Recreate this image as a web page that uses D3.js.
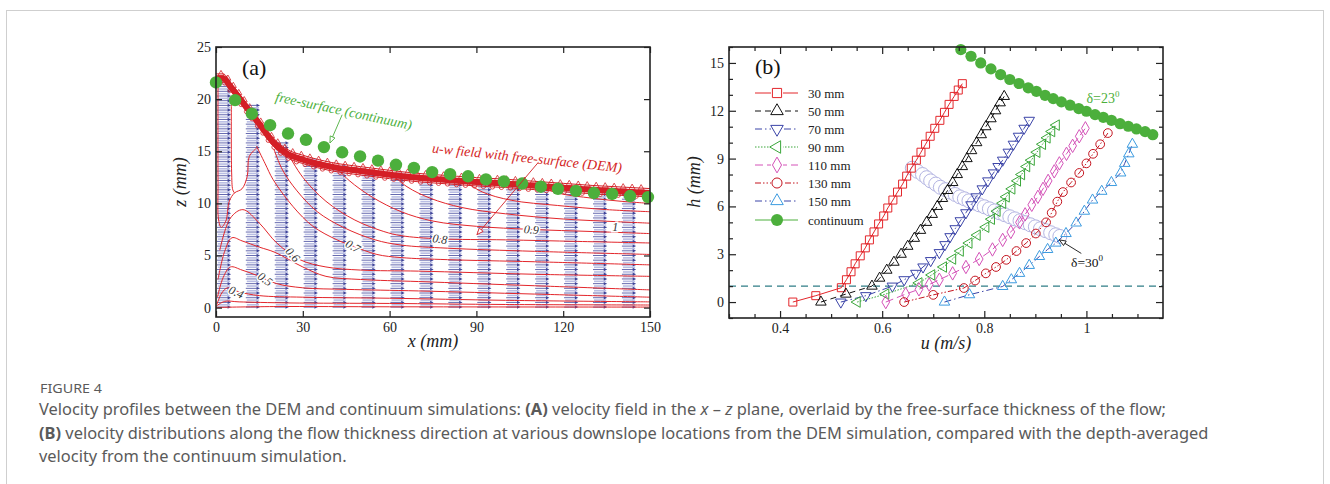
<!DOCTYPE html>
<html>
<head>
<meta charset="UTF-8">
<title>Figure 4 - velocity profiles DEM vs continuum</title>
<script src="https://d3js.org/d3.v7.min.js"></script>
<style>
  body { margin: 0; background: #fff; }
  svg text { font-family: "Liberation Serif", "Times New Roman", serif; }
  .cap text { font-family: "Noto Sans", "Open Sans", sans-serif; fill: #5a5a5a; }
</style>
</head>
<body>
<svg width="1330" height="484"></svg>
<script>
// ---------- panel (a) data ----------
const colX = [0, 10, 20, 30, 40, 50, 60, 70, 80, 90, 100, 110, 120, 130, 140];
const colTop = [22, 19.4, 15.8, 14.4, 13.7, 13.2, 12.9, 12.6, 12.4, 12.2, 12.0, 11.8, 11.6, 11.4, 11.2];

const demX = [0, 2.5, 5, 10, 15, 20, 25, 30, 40, 50, 60, 70, 80, 90, 100, 110, 120, 130, 140, 150];
const demZ = [22, 22, 21.2, 19.4, 17.6, 15.8, 14.7, 14.2, 13.5, 13.1, 12.75, 12.45, 12.25, 12.05, 11.9, 11.7, 11.5, 11.3, 11.15, 11.0];

const fsX = [0, 6.6, 12.4, 18.7, 24.9, 31.1, 37.3, 43.6, 49.8, 56, 62.2, 68.4, 74.7, 80.9, 87.1, 93.3, 99.5, 105.8, 112.3, 118.2, 124.4, 130.6, 136.9, 143.1, 149.3];
const fsZ = [21.6, 19.9, 18.6, 17.5, 16.7, 16.1, 15.4, 14.9, 14.5, 14.1, 13.7, 13.4, 13.0, 12.8, 12.6, 12.3, 12.1, 11.9, 11.6, 11.4, 11.2, 11.0, 10.9, 10.7, 10.6];

// contour lines of u, as [x, z] in mm
const contours = [
  [[0,0.02],[20,0.1],[60,0.08],[110,0.06],[150,0.05]],
  [[0,0.12],[3,0.6],[8,0.55],[25,0.45],[60,0.4],[100,0.3],[150,0.25]],
  [[0.3,0.3],[2,1.4],[4,1.9],[8,1.5],[15,1.15],[30,1.0],[60,0.9],[100,0.7],[150,0.55]],
  [[0.5,1.0],[2.5,2.9],[5,3.9],[9,3.6],[14,3.1],[21,2.3],[30,1.9],[45,1.75],[70,1.6],[110,1.3],[150,1.0]],
  [[0.7,2.7],[3,5.4],[5.5,6.7],[9,6.4],[15,5.8],[20.4,5.3],[30,3.9],[38,3.0],[50,2.7],[70,2.5],[110,2.1],[150,1.7]],
  [[1.3,5.5],[5,8.6],[9.3,9.4],[15,8.1],[21,6.2],[29,4.6],[38,3.9],[50,3.6],[70,3.5],[110,3.2],[150,3.0]],
  [[14,15.5],[17,13.8],[19.7,12.3],[26.6,9.7],[33.5,7.8],[41.8,6.5],[47.4,5.9],[55.6,5.1],[64,4.8],[80,4.6],[110,4.4],[150,4.1]],
  [[20,15.2],[23,13.2],[28,11.2],[35,9.2],[44,7.7],[55,6.5],[64,6.0],[80,5.7],[110,5.4],[150,5.1]],
  [[25,14.7],[30,12.5],[38,10.2],[48,8.4],[58,7.3],[64,6.9],[77,6.6],[100,6.5],[125,6.35],[150,6.2]],
  [[40,13.9],[46,12.2],[54,10.6],[64,9.2],[75,8.3],[90,7.8],[109,7.5],[130,7.3],[150,7.1]],
  [[60,13.0],[66,11.6],[74,10.5],[85,9.6],[100,9.0],[120,8.5],[138,8.25],[150,8.1]],
  [[85,12.3],[92,11.1],[102,10.3],[118,9.8],[135,9.4],[150,9.2]],
  [[110,11.9],[118,11.0],[130,10.5],[140,10.2],[150,10.0]],
  [[0.7,21.8],[0.7,12],[0.9,8.4],[1.8,7.7],[3.4,8.3],[4.6,10.2],[6.4,11],[9,11.4],[10.8,12.6],[11.5,14.5],[14,15.3]],
  [[5.3,19.5],[5.4,13],[5.8,11.3],[6.4,11]]
];
const cLabels = ["0.4", "0.5", "0.6", "0.7", "0.8", "0.9", "1"];
const cLabX = [7, 17, 26.6, 47.4, 77.4, 109, 138];
const cLabZ = [1.5, 2.75, 5.1, 5.9, 6.6, 7.5, 7.8];
const cLabA = [24, 36, 48, 30, 8, 5, 0];

const xTicksA = [0, 30, 60, 90, 120, 150];
const zTicksA = [0, 5, 10, 15, 20, 25];

// ---------- panel (b) data ----------
const u30 = [0.425, 0.470, 0.520, 0.530, 0.539, 0.547, 0.557, 0.567, 0.575, 0.584, 0.593, 0.603, 0.611, 0.621, 0.630, 0.640, 0.648, 0.657, 0.667, 0.676, 0.685, 0.694, 0.703, 0.713, 0.722, 0.731, 0.741, 0.749, 0.757];
const h30 = [0, 0.4, 0.9, 1.4, 1.9, 2.4, 2.9, 3.4, 3.9, 4.4, 4.9, 5.4, 5.9, 6.4, 6.9, 7.4, 7.9, 8.4, 8.9, 9.4, 9.9, 10.4, 10.9, 11.4, 11.9, 12.4, 12.9, 13.3, 13.7];
const u50 = [0.480, 0.529, 0.580, 0.595, 0.609, 0.623, 0.637, 0.650, 0.663, 0.675, 0.687, 0.698, 0.708, 0.718, 0.728, 0.738, 0.747, 0.757, 0.766, 0.775, 0.785, 0.794, 0.803, 0.813, 0.822, 0.831, 0.839];
const h50 = [0, 0.5, 1.0, 1.5, 2.0, 2.5, 3.0, 3.5, 4.0, 4.5, 5.0, 5.5, 6.0, 6.5, 7.0, 7.5, 8.0, 8.5, 9.0, 9.5, 10.0, 10.5, 11.0, 11.5, 12.0, 12.5, 12.9];
const u70 = [0.519, 0.568, 0.620, 0.643, 0.666, 0.680, 0.695, 0.712, 0.723, 0.733, 0.743, 0.753, 0.764, 0.774, 0.784, 0.796, 0.807, 0.818, 0.827, 0.836, 0.847, 0.857, 0.867, 0.878, 0.888];
const h70 = [0, 0.4, 1.0, 1.4, 1.8, 2.2, 2.6, 3.1, 3.6, 4.1, 4.6, 5.1, 5.6, 6.1, 6.6, 7.1, 7.6, 8.1, 8.5, 8.9, 9.4, 9.9, 10.4, 10.9, 11.4];
const u90 = [0.551, 0.607, 0.672, 0.697, 0.720, 0.738, 0.753, 0.770, 0.786, 0.803, 0.814, 0.825, 0.836, 0.843, 0.854, 0.865, 0.873, 0.883, 0.892, 0.903, 0.914, 0.923, 0.932, 0.941];
const h90 = [0, 0.5, 1.2, 1.7, 2.2, 2.7, 3.2, 3.7, 4.2, 4.7, 5.2, 5.7, 6.2, 6.6, 7.1, 7.6, 8.0, 8.5, 8.9, 9.4, 9.9, 10.3, 10.7, 11.1];
const u110 = [0.607, 0.646, 0.672, 0.692, 0.712, 0.738, 0.764, 0.790, 0.816, 0.836, 0.852, 0.869, 0.880, 0.893, 0.905, 0.915, 0.925, 0.937, 0.947, 0.961, 0.973, 0.986, 0.998];
const h110 = [0, 0.5, 0.8, 1.1, 1.4, 1.8, 2.2, 2.7, 3.3, 3.9, 4.4, 5.0, 5.5, 6.1, 6.6, 7.1, 7.6, 8.2, 8.7, 9.3, 9.8, 10.4, 10.9];
const u130 = [0.643, 0.700, 0.760, 0.782, 0.803, 0.823, 0.843, 0.863, 0.882, 0.901, 0.921, 0.932, 0.943, 0.954, 0.970, 0.986, 1.000, 1.013, 1.027, 1.042];
const h130 = [0, 0.45, 0.88, 1.35, 1.8, 2.2, 2.65, 3.2, 3.7, 4.3, 5.0, 5.6, 6.3, 6.9, 7.5, 8.1, 8.7, 9.3, 9.9, 10.6];
const u150 = [0.722, 0.771, 0.836, 0.853, 0.869, 0.888, 0.908, 0.924, 0.940, 0.960, 0.980, 0.996, 1.012, 1.030, 1.049, 1.067, 1.075, 1.083, 1.090];
const h150 = [0, 0.46, 0.98, 1.4, 1.8, 2.3, 2.86, 3.3, 3.7, 4.3, 4.96, 5.7, 6.4, 6.95, 7.5, 8.1, 8.7, 9.3, 9.9];
const uCont = [0.754, 0.774, 0.793, 0.813, 0.832, 0.850, 0.868, 0.886, 0.902, 0.919, 0.935, 0.951, 0.968, 0.985, 1.000, 1.017, 1.033, 1.049, 1.066, 1.082, 1.098, 1.115, 1.130];
const hCont = [15.84, 15.42, 15.0, 14.63, 14.27, 13.96, 13.71, 13.44, 13.22, 12.97, 12.76, 12.56, 12.35, 12.14, 11.97, 11.76, 11.59, 11.40, 11.19, 11.03, 10.86, 10.69, 10.50];
const uD30 = [0.659, 0.669, 0.679, 0.687, 0.695, 0.705, 0.714, 0.724, 0.733, 0.743, 0.752, 0.761, 0.770, 0.780, 0.790, 0.800, 0.810, 0.820, 0.830, 0.840, 0.850, 0.860, 0.870, 0.880, 0.890, 0.900, 0.910, 0.920, 0.930, 0.940, 0.948];
const hD30 = [8.4, 8.2, 8.0, 7.8, 7.6, 7.4, 7.2, 7.05, 6.9, 6.75, 6.6, 6.48, 6.35, 6.22, 6.1, 5.98, 5.85, 5.72, 5.6, 5.48, 5.35, 5.22, 5.1, 4.98, 4.85, 4.72, 4.6, 4.48, 4.35, 4.22, 4.12];
const hDepo = [1];

const seriesNames = ["30 mm", "50 mm", "70 mm", "90 mm", "110 mm", "130 mm", "150 mm", "continuum"];
const uMajor = [0.4, 0.6, 0.8, 1.0];
const uMinor = [0.3, 0.35, 0.45, 0.5, 0.55, 0.65, 0.7, 0.75, 0.85, 0.9, 0.95, 1.05, 1.1];
const hMajor = [0, 3, 6, 9, 12, 15];
const hMinor = [-1, 1, 2, 4, 5, 7, 8, 10, 11, 13, 14, 16];

// ---------- drawing ----------
const svg = d3.select("svg");
const green = "#4caf3c";

svg.append("rect").attr("x", 6.5).attr("y", 10.5).attr("width", 1317).attr("height", 500)
  .attr("fill", "none").attr("stroke", "#cfcfcf");

// ===== panel (a) =====
const xa = d3.scaleLinear().domain([0, 150]).range([216, 650]);
const za = d3.scaleLinear().domain([-0.9, 25]).range([317, 47]);
const ga = svg.append("g");

svg.append("clipPath").attr("id", "clipA").append("rect")
  .attr("x", 216).attr("y", 47).attr("width", 434).attr("height", 270);

const field = ga.append("g").attr("clip-path", "url(#clipA)");
const arrowLen = 5.2;
colX.forEach((cx, i) => {
  for (let z = 0.05; z <= colTop[i] + 0.01; z += 0.45) {
    const x0 = xa(cx + 0.3), x1 = xa(cx + arrowLen);
    if (z + 0.22 <= colTop[i]) {
      field.append("line").attr("x1", x0 + 1).attr("x2", x1 - 1)
        .attr("y1", za(z + 0.22)).attr("y2", za(z + 0.22))
        .attr("stroke", "#b9bde3").attr("stroke-width", 1.6);
    }
    const y = za(z);
    field.append("path").attr("d", `M${x0},${y}H${x1 - 3}`)
      .attr("stroke", "#3d4399").attr("stroke-width", 0.8);
    field.append("path").attr("d", `M${x1},${y}L${x1 - 3.4},${y - 1.7}L${x1 - 3.4},${y + 1.7}Z`)
      .attr("fill", "#3d4399");
  }
});

const cLine = d3.line().x(d => xa(d[0])).y(d => za(d[1])).curve(d3.curveCatmullRom.alpha(0.5));
ga.append("g").attr("clip-path", "url(#clipA)")
  .selectAll("path").data(contours).join("path")
  .attr("d", cLine).attr("fill", "none").attr("stroke", "#e3262b").attr("stroke-width", 1);

cLabels.forEach((t, i) => {
  ga.append("text")
    .attr("transform", `translate(${xa(cLabX[i])},${za(cLabZ[i])}) rotate(${cLabA[i]})`)
    .attr("text-anchor", "middle").attr("dy", "0.35em")
    .attr("font-family", "Liberation Sans, Arial, sans-serif").attr("font-style", "italic")
    .attr("font-size", 12).attr("fill", "#333")
    .attr("stroke", "#fff").attr("stroke-width", 3).attr("paint-order", "stroke")
    .text(t);
});

// DEM free surface band
const demPts = d3.zip(demX, demZ);
const demLine = d3.line().x(d => xa(d[0])).y(d => za(d[1])).curve(d3.curveMonotoneX);
const band = ga.append("g").attr("clip-path", "url(#clipA)");
band.append("path").attr("d", demLine(demPts)).attr("fill", "none")
  .attr("stroke", "#d41f26").attr("stroke-width", 6);
[0.42, -0.38].forEach((off, k) => {
  const p = band.append("path").attr("d", demLine(demPts.map(d => [d[0], d[1] + off])))
    .attr("fill", "none").attr("stroke", "#d41f26").attr("stroke-width", 1);
  const node = p.node(), L = node.getTotalLength();
  for (let s = 5 + k * 4; s < L; s += 9) {
    const q = node.getPointAtLength(s);
    band.append("path").attr("transform", `translate(${q.x},${q.y})`)
      .attr("d", d3.symbol(k ? d3.symbolCircle : d3.symbolTriangle, 16)())
      .attr("fill", "none").attr("stroke", "#d41f26").attr("stroke-width", 0.8);
  }
});

// continuum free surface
ga.append("g").selectAll("circle").data(d3.zip(fsX, fsZ)).join("circle")
  .attr("cx", d => xa(d[0])).attr("cy", d => za(d[1])).attr("r", 6.2).attr("fill", green);

function arrowHead(g, x0, y0, x1, y1, color, fill) {
  const a = Math.atan2(y1 - y0, x1 - x0), l = 7, w = 0.38;
  const p1 = [x1 - l * Math.cos(a - w), y1 - l * Math.sin(a - w)];
  const p2 = [x1 - l * Math.cos(a + w), y1 - l * Math.sin(a + w)];
  g.append("path").attr("d", `M${p1}L${x1},${y1}L${p2}Z`)
    .attr("fill", fill).attr("stroke", color).attr("stroke-width", 0.9);
}

// annotations (a)
ga.append("line").attr("x1", xa(43.6)).attr("y1", za(18.5)).attr("x2", xa(39.4)).attr("y2", za(15.8))
  .attr("stroke", green).attr("stroke-width", 0.9);
arrowHead(ga, xa(43.6), za(18.5), xa(39.4), za(15.8), green, "#fff");
ga.append("text").attr("transform", `translate(${xa(44.2)},${za(18.9)}) rotate(12)`)
  .attr("text-anchor", "middle").attr("dy", "0.35em").attr("font-style", "italic")
  .attr("font-size", 14).attr("fill", green).text("free-surface (continuum)");

ga.append("line").attr("x1", xa(111.3)).attr("y1", za(13.9)).attr("x2", xa(90.2)).attr("y2", za(7.0))
  .attr("stroke", "#d41f26").attr("stroke-width", 0.9);
arrowHead(ga, xa(111.3), za(13.9), xa(90.2), za(7.0), "#d41f26", "#fff");
ga.append("text").attr("transform", `translate(${xa(107.5)},${za(14.4)}) rotate(6)`)
  .attr("text-anchor", "middle").attr("dy", "0.35em").attr("font-style", "italic")
  .attr("font-size", 14).attr("fill", "#d41f26").text("u-w field with free-surface (DEM)");

ga.append("text").attr("x", xa(9)).attr("y", za(22.3)).attr("font-size", 22).attr("fill", "#111").text("(a)");

// axes (a)
function styleAxis(g) {
  g.attr("font-family", "Liberation Serif, Times New Roman, serif").attr("font-size", 14);
  g.select(".domain").remove();
  g.selectAll(".tick line").attr("stroke", "#222").attr("stroke-width", 1.2);
  g.selectAll("text").attr("fill", "#222");
}
ga.append("g").attr("transform", "translate(0,317)")
  .call(d3.axisBottom(xa).tickValues(xTicksA).tickSize(-6).tickSizeOuter(0).tickPadding(5)).call(styleAxis);
ga.append("g").attr("transform", "translate(0,47)")
  .call(d3.axisTop(xa).tickValues(xTicksA).tickSize(-6).tickSizeOuter(0).tickFormat("")).call(styleAxis);
ga.append("g").attr("transform", "translate(216,0)")
  .call(d3.axisLeft(za).tickValues(zTicksA).tickSize(-6).tickSizeOuter(0).tickPadding(5)).call(styleAxis);
ga.append("g").attr("transform", "translate(650,0)")
  .call(d3.axisRight(za).tickValues(zTicksA).tickSize(-6).tickSizeOuter(0).tickFormat("")).call(styleAxis);
ga.append("rect").attr("x", 216).attr("y", 47).attr("width", 434).attr("height", 270)
  .attr("fill", "none").attr("stroke", "#222").attr("stroke-width", 1.6);

ga.append("text").attr("x", 433).attr("y", 347).attr("text-anchor", "middle")
  .attr("font-style", "italic").attr("font-size", 18).attr("fill", "#222").text("x (mm)");
ga.append("text").attr("transform", "translate(186,182) rotate(-90)").attr("text-anchor", "middle")
  .attr("font-style", "italic").attr("font-size", 18).attr("fill", "#222").text("z (mm)");

// ===== panel (b) =====
const ub = d3.scaleLinear().domain([0.3, 1.15]).range([729, 1163]);
const hb = d3.scaleLinear().domain([-1, 16]).range([318, 47]);
const gb = svg.append("g");

gb.selectAll("line.depo").data(hDepo).join("line").attr("class", "depo")
  .attr("x1", ub(0.3)).attr("x2", ub(1.15)).attr("y1", d => hb(d)).attr("y2", d => hb(d))
  .attr("stroke", "#2f7d86").attr("stroke-width", 1.3).attr("stroke-dasharray", "7,5");

// delta = 30 deg continuum profile (light circles)
gb.append("g").selectAll("circle").data(d3.zip(uD30, hD30)).join("circle")
  .attr("cx", d => ub(d[0])).attr("cy", d => hb(d[1])).attr("r", 7)
  .attr("fill", "#fff").attr("fill-opacity", 0.85).attr("stroke", "#b3b4e2").attr("stroke-width", 1);

const styles = [
  { c: "#e3262b", m: "#e3262b", dash: null, sym: d3.symbolSquare, size: 64, rot: 0 },
  { c: "#111", m: "#111", dash: "6,4", sym: d3.symbolTriangle, size: 48, rot: 0 },
  { c: "#3b44a8", m: "#3b44a8", dash: "7,3,1.5,3", sym: d3.symbolTriangle, size: 48, rot: 180 },
  { c: "#3aa63a", m: "#3aa63a", dash: "1.5,1.5", sym: d3.symbolTriangle, size: 48, rot: -90 },
  { c: "#d452b8", m: "#d452b8", dash: "8,4", sym: d3.symbolDiamond, size: 52, rot: 0 },
  { c: "#c4141f", m: "#c4141f", dash: "6,2,1.5,2,1.5,2", sym: d3.symbolCircle, size: 60, rot: 0 },
  { c: "#3b44a8", m: "#3c9be0", dash: "7,3,1.5,3", sym: d3.symbolTriangle, size: 48, rot: 0 }
];
const seriesU = [u30, u50, u70, u90, u110, u130, u150];
const seriesH = [h30, h50, h70, h90, h110, h130, h150];
const pLine = d3.line().x(d => ub(d[0])).y(d => hb(d[1]));

seriesU.forEach((us, i) => {
  const st = styles[i], pts = d3.zip(us, seriesH[i]);
  const g = gb.append("g");
  g.append("path").attr("d", pLine(pts)).attr("fill", "none").attr("stroke", st.c)
    .attr("stroke-width", 1).attr("stroke-dasharray", st.dash);
  g.selectAll("path.mk").data(pts).join("path").attr("class", "mk")
    .attr("transform", d => `translate(${ub(d[0])},${hb(d[1])}) rotate(${st.rot})`)
    .attr("d", d3.symbol(st.sym, st.size)()).attr("fill", "none").attr("stroke", st.m).attr("stroke-width", 1);
});

gb.append("path").attr("d", pLine(d3.zip(uCont, hCont))).attr("fill", "none").attr("stroke", green).attr("stroke-width", 1);
gb.append("g").selectAll("circle").data(d3.zip(uCont, hCont)).join("circle")
  .attr("cx", d => ub(d[0])).attr("cy", d => hb(d[1])).attr("r", 5.6).attr("fill", green);

// legend
const legY = [93, 111, 129, 147, 165, 183, 201, 220];
seriesNames.forEach((name, i) => {
  const y = legY[i];
  const st = styles[i];
  const g = gb.append("g");
  if (st) {
    g.append("line").attr("x1", 755).attr("x2", 798).attr("y1", y).attr("y2", y)
      .attr("stroke", st.c).attr("stroke-width", 1).attr("stroke-dasharray", st.dash);
    g.append("rect").attr("x", 771).attr("y", y - 6).attr("width", 12).attr("height", 12).attr("fill", "#fff");
    g.append("path").attr("transform", `translate(777,${y}) rotate(${st.rot})`)
      .attr("d", d3.symbol(st.sym, st.size + 20)()).attr("fill", "none").attr("stroke", st.m).attr("stroke-width", 1);
  } else {
    g.append("line").attr("x1", 755).attr("x2", 798).attr("y1", y).attr("y2", y).attr("stroke", green).attr("stroke-width", 1);
    g.append("circle").attr("cx", 777).attr("cy", y).attr("r", 6).attr("fill", green);
  }
  g.append("text").attr("x", 808).attr("y", y).attr("dy", "0.35em").attr("font-size", 13).attr("fill", "#222").text(name);
});

// annotations (b)
const t23 = gb.append("text").attr("x", ub(1.0)).attr("y", hb(12.5)).attr("font-family", "Liberation Sans, Arial, sans-serif")
  .attr("font-size", 14).attr("fill", green);
t23.append("tspan").text("δ=23");
t23.append("tspan").attr("dy", -6).attr("font-size", 9).text("0");

gb.append("line").attr("x1", ub(0.99)).attr("y1", hb(3.05)).attr("x2", ub(0.947)).attr("y2", hb(3.9))
  .attr("stroke", "#111").attr("stroke-width", 0.9);
arrowHead(gb, ub(0.99), hb(3.05), ub(0.947), hb(3.9), "#111", "#fff");
const t30 = gb.append("text").attr("x", ub(0.97)).attr("y", hb(2.2)).attr("font-family", "Liberation Sans, Arial, sans-serif")
  .attr("font-size", 13.5).attr("fill", "#111");
t30.append("tspan").text("δ=30");
t30.append("tspan").attr("dy", -6).attr("font-size", 9).text("0");

gb.append("text").attr("x", ub(0.351)).attr("y", hb(14.3)).attr("font-size", 22).attr("fill", "#111").text("(b)");

// axes (b)
gb.append("g").attr("transform", "translate(0,318)")
  .call(d3.axisBottom(ub).tickValues(uMajor).tickSize(-7).tickSizeOuter(0).tickPadding(5).tickFormat(d3.format("~g"))).call(styleAxis);
gb.append("g").attr("transform", "translate(0,318)")
  .call(d3.axisBottom(ub).tickValues(uMinor).tickSize(-4).tickSizeOuter(0).tickFormat("")).call(styleAxis);
gb.append("g").attr("transform", "translate(0,47)")
  .call(d3.axisTop(ub).tickValues(uMajor).tickSize(-7).tickSizeOuter(0).tickFormat("")).call(styleAxis);
gb.append("g").attr("transform", "translate(0,47)")
  .call(d3.axisTop(ub).tickValues(uMinor).tickSize(-4).tickSizeOuter(0).tickFormat("")).call(styleAxis);
gb.append("g").attr("transform", "translate(729,0)")
  .call(d3.axisLeft(hb).tickValues(hMajor).tickSize(-7).tickSizeOuter(0).tickPadding(5)).call(styleAxis);
gb.append("g").attr("transform", "translate(729,0)")
  .call(d3.axisLeft(hb).tickValues(hMinor).tickSize(-4).tickSizeOuter(0).tickFormat("")).call(styleAxis);
gb.append("g").attr("transform", "translate(1163,0)")
  .call(d3.axisRight(hb).tickValues(hMajor).tickSize(-7).tickSizeOuter(0).tickFormat("")).call(styleAxis);
gb.append("g").attr("transform", "translate(1163,0)")
  .call(d3.axisRight(hb).tickValues(hMinor).tickSize(-4).tickSizeOuter(0).tickFormat("")).call(styleAxis);
gb.append("rect").attr("x", 729).attr("y", 47).attr("width", 434).attr("height", 271)
  .attr("fill", "none").attr("stroke", "#222").attr("stroke-width", 1.6);

gb.append("text").attr("x", 946).attr("y", 349).attr("text-anchor", "middle")
  .attr("font-style", "italic").attr("font-size", 18).attr("fill", "#222").text("u (m/s)");
gb.append("text").attr("transform", "translate(700,182) rotate(-90)").attr("text-anchor", "middle")
  .attr("font-style", "italic").attr("font-size", 18).attr("fill", "#222").text("h (mm)");

// ===== caption =====
const cap = svg.append("g").attr("class", "cap");
const f4 = cap.append("text").attr("font-size", 12.5).text("FIGURE 4");
const f4k = 62 / f4.node().getComputedTextLength();
f4.attr("transform", `translate(40,392.5) scale(${f4k},1)`);

const l1 = cap.append("text").attr("font-size", 16.5);
l1.append("tspan").text("Velocity profiles between the DEM and continuum simulations: ");
l1.append("tspan").attr("font-weight", "bold").text("(A)");
l1.append("tspan").text(" velocity field in the ");
l1.append("tspan").attr("font-style", "italic").text("x");
l1.append("tspan").text(" – ");
l1.append("tspan").attr("font-style", "italic").text("z");
l1.append("tspan").text(" plane, overlaid by the free-surface thickness of the flow;");

const l2 = cap.append("text").attr("font-size", 16.5);
l2.append("tspan").attr("font-weight", "bold").text("(B)");
l2.append("tspan").text(" velocity distributions along the flow thickness direction at various downslope locations from the DEM simulation, compared with the depth-averaged");

const l3 = cap.append("text").attr("font-size", 16.5).text("velocity from the continuum simulation.");

// one common horizontal squeeze for all caption lines
const k1 = 1043 / l1.node().getComputedTextLength();
const k2 = 1258 / l2.node().getComputedTextLength();
const kc = (k1 + k2) / 2;
l1.attr("transform", `translate(39,415) scale(${kc},1)`);
l2.attr("transform", `translate(39,438.5) scale(${kc},1)`);
l3.attr("transform", `translate(39,462) scale(${kc},1)`);
</script>
</body>
</html>
